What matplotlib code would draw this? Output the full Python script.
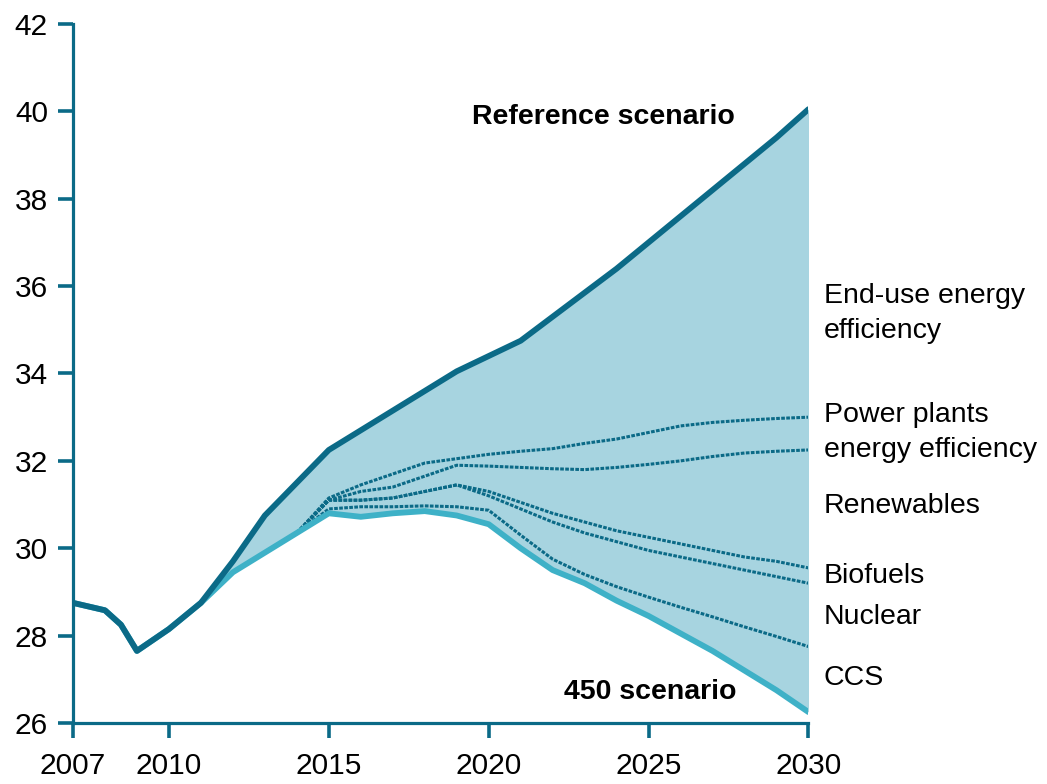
import numpy as np
import matplotlib
matplotlib.use('Agg')
import matplotlib.pyplot as plt

plt.rcParams['font.family'] = ['Liberation Sans', 'DejaVu Sans']

# reference scenario and 450 scenario (Gt CO2)
years = [2007, 2008, 2008.5, 2009, 2010, 2011, 2012, 2013, 2014, 2015, 2016, 2017, 2018,
         2019, 2020, 2021, 2022, 2023, 2024, 2025, 2026, 2027, 2028, 2029, 2030]
reference = [28.75, 28.58, 28.25, 27.65, 28.15, 28.75, 29.7, 30.75, 31.5, 32.25, 32.7, 33.15,
             33.6, 34.05, 34.4, 34.75, 35.3, 35.85, 36.4, 37.0, 37.6, 38.2, 38.8, 39.4, 40.05]
s450 = [28.75, 28.58, 28.25, 27.65, 28.15, 28.75, 29.45, 29.9, 30.35, 30.8, 30.72, 30.8,
        30.85, 30.75, 30.55, 30.0, 29.5, 29.2, 28.8, 28.45, 28.05, 27.65, 27.2, 26.75, 26.25]

# wedge boundaries, from 2014
wedge_years = list(range(2014, 2031))
wedge_1 = [30.35, 31.15, 31.45, 31.7, 31.95, 32.05, 32.15, 32.22, 32.28, 32.4, 32.5,
           32.65, 32.8, 32.88, 32.93, 32.97, 33.0]
wedge_2 = [30.35, 31.1, 31.3, 31.4, 31.65, 31.9, 31.88, 31.85, 31.82, 31.8, 31.85,
           31.92, 32.0, 32.1, 32.18, 32.22, 32.25]
wedge_3 = [30.35, 31.1, 31.1, 31.15, 31.3, 31.45, 31.3, 31.05, 30.8, 30.6, 30.4,
           30.25, 30.1, 29.95, 29.8, 29.7, 29.55]
wedge_4 = [30.35, 31.1, 31.1, 31.15, 31.3, 31.45, 31.2, 30.9, 30.6, 30.35, 30.15,
           29.95, 29.8, 29.65, 29.5, 29.35, 29.2]
wedge_5 = [30.35, 30.9, 30.95, 30.95, 30.97, 30.95, 30.87, 30.3, 29.75, 29.4, 29.12,
           28.88, 28.65, 28.43, 28.2, 27.98, 27.75]

wedge_labels = ['End-use energy\nefficiency', 'Power plants\nenergy efficiency',
                'Renewables', 'Biofuels', 'Nuclear', 'CCS']
label_y = [35.38, 32.66, 30.97, 29.36, 28.43, 27.03]

dark = '#0b6a87'
light = '#3eb1c7'
fill = '#a7d4e0'

fig = plt.figure(figsize=(10.47, 7.84), dpi=100)
ax = fig.add_axes([0.0697, 0.0778, 0.7025, 0.8916])

ax.fill_between(years, s450, reference, color=fill, lw=0)
for w in [wedge_1, wedge_2, wedge_3, wedge_4, wedge_5]:
    ax.plot(wedge_years, w, color=dark, lw=2.2, ls=(0, (1.2, 0.45)))
ax.plot(years, s450, color=light, lw=4.2, solid_capstyle='round')
ax.plot(years, reference, color=dark, lw=4.2, solid_capstyle='round')

ax.text(2023.6, 39.87, 'Reference scenario', fontsize=20.5, fontweight='bold',
        ha='center', va='center', color='black')
ax.text(2025.06, 26.71, '450 scenario', fontsize=20.5, fontweight='bold',
        ha='center', va='center', color='black')
for lab, yv in zip(wedge_labels, label_y):
    ax.text(2030.47, yv, lab, fontsize=20.5, ha='left', va='center',
            linespacing=1.45, clip_on=False)

ax.set_xlim(2007, 2030)
ax.set_ylim(26, 42)
ax.set_xticks([2007, 2010, 2015, 2020, 2025, 2030])
ax.set_yticks(range(26, 43, 2))

for s in ['top', 'right']:
    ax.spines[s].set_visible(False)
for s in ['left', 'bottom']:
    ax.spines[s].set_color(dark)
    ax.spines[s].set_linewidth(2.3)
ax.tick_params(axis='both', colors=dark, width=2.6, length=11, labelsize=21.5,
               labelcolor='black')
ax.tick_params(axis='y', pad=7)
ax.tick_params(axis='x', pad=10)

fig.savefig('out.png', dpi=100)
